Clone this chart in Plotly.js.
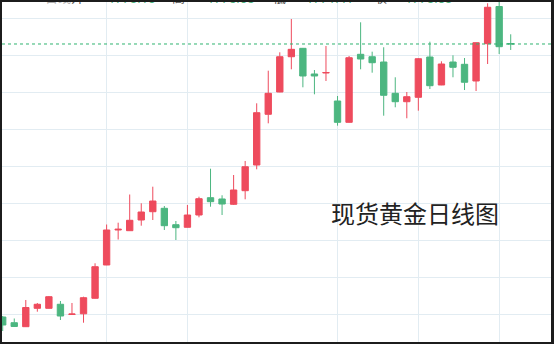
<!DOCTYPE html>
<html>
<head>
<meta charset="utf-8">
<script src="https://cdn.plot.ly/plotly-3.0.1.min.js"></script>
<style>
  html, body { margin: 0; padding: 0; width: 554px; height: 344px; background: #1c1c1c; overflow: hidden; }
  #chart { position: absolute; left: 2px; top: 2px; width: 549px; height: 340px; background: #fff; }
</style>
</head>
<body>
<div id="chart"></div>
<script>
// Daily spot-gold candles (oldest first)
const opens  = [1699.24,1697.70,1696.62,1701.59,1701.59,1702.68,1699.92,1700.11,1704.30,1713.30,
                1722.76,1722.57,1725.46,1727.70,1728.62,1724.19,1723.49,1726.81,1731.49,1731.14,
                1729.70,1733.38,1740.32,1754.03,1760.05,1769.59,1771.86,1764.92,1765.19,1757.62,
                1751.86,1770.24,1769.59,1768.16,1759.70,1757.43,1758.62,1769.51,1761.95,1768.16,
                1767.54,1763.03,1773.11,1783.16,1773.16];
const highs  = [1699.51,1698.84,1703.84,1703.03,1704.92,1703.57,1703.03,1704.73,1713.76,1724.24,
                1724.73,1732.35,1729.97,1734.46,1729.24,1725.19,1729.51,1731.76,1739.32,1732.14,
                1737.62,1741.41,1757.00,1765.81,1770.78,1779.78,1771.95,1766.00,1772.49,1758.97,
                1769.78,1778.89,1770.95,1772.14,1764.03,1760.05,1769.24,1773.65,1768.35,1769.97,
                1769.24,1773.43,1784.03,1784.92,1775.65];
const lows   = [1695.46,1696.54,1696.55,1700.68,1701.54,1698.43,1699.90,1697.70,1704.24,1713.25,
                1720.19,1722.55,1723.92,1725.46,1722.76,1720.05,1723.45,1726.19,1729.05,1726.81,
                1729.51,1731.05,1739.16,1751.59,1760.00,1766.19,1761.32,1759.43,1763.03,1750.95,
                1751.80,1766.19,1765.27,1753.65,1755.92,1752.95,1755.00,1760.86,1761.90,1764.03,
                1760.59,1760.32,1767.62,1770.32,1771.41];
const closes = [1697.08,1696.68,1701.81,1702.68,1704.73,1699.51,1700.05,1704.46,1712.84,1722.76,
                1722.95,1725.38,1727.62,1730.59,1723.92,1723.38,1726.81,1731.22,1730.41,1729.78,
                1733.57,1739.86,1754.46,1759.70,1769.59,1771.59,1764.38,1764.38,1765.32,1751.86,
                1769.32,1768.97,1767.97,1759.16,1757.43,1758.78,1769.05,1761.76,1767.62,1766.73,
                1762.68,1773.38,1782.95,1772.30,1773.03];

// Session indices carrying a vertical grid line
const gridSessions = [9, 16, 29, 36, 43];

// Header quote line: labels and values of the latest session
const quoteLabels = ['日线', '开', '高', '低', '收'];
const quoteValues = ['1773.16', '1775.65', '1771.41', '1773.03'];

const UP = '#ee4b5d';
const DOWN = '#4cb680';
const GRID = '#e2ecf2';

const sessions = opens.map((_, i) => i);
const lastClose = closes[closes.length - 1];

const trace = {
  type: 'candlestick',
  x: sessions,
  open: opens, high: highs, low: lows, close: closes,
  increasing: { line: { color: UP, width: 1 }, fillcolor: UP },
  decreasing: { line: { color: DOWN, width: 1 }, fillcolor: DOWN },
  whiskerwidth: 0,
  hoverinfo: 'skip'
};

// The quote line sits mostly above the top edge of the chart area
const labelX = [0.102, 0.138, 0.322, 0.506, 0.689];
const valueX = [0.235, 0.417, 0.597, 0.777];
const annotations = [];
quoteLabels.forEach((t, i) => annotations.push({
  text: t, xref: 'paper', yref: 'paper', x: labelX[i], y: 1, xanchor: 'center', yanchor: 'bottom',
  yshift: -6, showarrow: false, font: { family: 'Noto Sans CJK SC', size: 13, color: i === 0 ? '#b0b0b0' : '#555' }
}));
quoteValues.forEach((t, i) => annotations.push({
  text: t, xref: 'paper', yref: 'paper', x: valueX[i], y: 1, xanchor: 'center', yanchor: 'bottom',
  yshift: -6, showarrow: false, font: { family: 'Roboto', size: 13, color: DOWN }
}));
annotations.push({
  text: '现货黄金日线图', xref: 'paper', yref: 'paper', x: 0.752, y: 0.382,
  xanchor: 'center', yanchor: 'middle', showarrow: false,
  font: { family: 'Noto Sans CJK SC', size: 24, color: '#222' }
});

const layout = {
  width: 549, height: 340,
  margin: { l: 0, r: 0, t: 0, b: 0 },
  paper_bgcolor: '#fff', plot_bgcolor: '#fff',
  showlegend: false,
  boxgap: 0.45, boxgroupgap: 0,
  xaxis: {
    range: [-0.0606, 47.49], rangeslider: { visible: false },
    tickmode: 'array', tickvals: gridSessions, showticklabels: false, ticks: '',
    showgrid: true, gridcolor: GRID, gridwidth: 1, zeroline: false, showline: false
  },
  yaxis: {
    range: [1692.486, 1784.378],
    tick0: 1700, dtick: 10, showticklabels: false, ticks: '',
    showgrid: true, gridcolor: GRID, gridwidth: 1, zeroline: false, showline: false
  },
  shapes: [{
    type: 'line', xref: 'paper', x0: 0, x1: 1, yref: 'y', y0: lastClose, y1: lastClose,
    line: { color: '#2fb36f', width: 1, dash: 'dot' }
  }],
  annotations: annotations
};

Plotly.newPlot('chart', [trace], layout, { staticPlot: true, displayModeBar: false });
</script>
</body>
</html>
